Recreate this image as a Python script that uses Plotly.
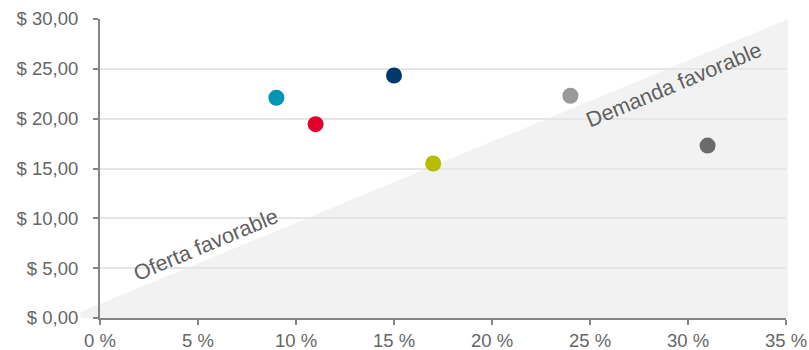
import plotly.graph_objects as go

# Data
x_vals = [9, 11, 15, 17, 24, 31]          # %
y_vals = [22.1, 19.45, 24.33, 15.5, 22.3, 17.3]  # $
colors = ["#0097B5", "#E4002B", "#00386B", "#B4BD00", "#999999", "#6B6B6B"]

x_ticks = [0, 5, 10, 15, 20, 25, 30, 35]
x_ticktext = ["0 %", "5 %", "10 %", "15 %", "20 %", "25 %", "30 %", "35 %"]
y_ticks = [0, 5, 10, 15, 20, 25, 30]
y_ticktext = ["$ 0,00", "$ 5,00", "$ 10,00", "$ 15,00", "$ 20,00", "$ 25,00", "$ 30,00"]

labels = ["Oferta favorable", "Demanda favorable"]
label_x = [5.4, 29.3]
label_y = [7.3, 23.4]

X_MAX, Y_MAX = 35, 30

fig = go.Figure()
fig.add_trace(go.Scatter(
    x=x_vals, y=y_vals, mode="markers",
    marker=dict(size=16, color=colors, line=dict(width=0)),
    showlegend=False, hoverinfo="x+y",
))

# background triangle (paper coords so it can extend slightly beyond the axes)
x0p, y0p = -1.0 / X_MAX, 0.6 / Y_MAX
x1p = 35.1 / X_MAX
fig.add_shape(
    type="path", xref="paper", yref="paper",
    path=f"M {x0p} {y0p} L {x1p} 1 L {x1p} 0 L {x0p} 0 Z",
    fillcolor="#F2F2F2", line=dict(width=0), layer="below",
)

for t, lx, ly in zip(labels, label_x, label_y):
    fig.add_annotation(x=lx, y=ly, text=t, showarrow=False, textangle=-22.7,
                       font=dict(family="Liberation Sans, Arial", size=21.5, color="#5F5F5F"))

axis_col = "#858585"
fig.update_layout(
    width=809, height=350,
    margin=dict(l=100, r=23, t=19, b=32),
    paper_bgcolor="white", plot_bgcolor="rgba(0,0,0,0)",
    font=dict(family="Liberation Sans, Arial", size=18.5, color="#666666"),
    xaxis=dict(range=[0, X_MAX], tickvals=x_ticks, ticktext=x_ticktext, automargin=False,
               showgrid=False, zeroline=False, showline=True, linecolor=axis_col, linewidth=2,
               ticks="outside", ticklen=5, tickcolor=axis_col, tickwidth=2, fixedrange=True),
    yaxis=dict(range=[0, Y_MAX], tickvals=y_ticks, ticktext=y_ticktext, automargin=False,
               ticklabelstandoff=11,
               showgrid=True, gridcolor="#E6E6E6", gridwidth=2, zeroline=False,
               showline=True, linecolor=axis_col, linewidth=2,
               ticks="outside", ticklen=5, tickcolor=axis_col, tickwidth=2, fixedrange=True),
)

fig.write_html("out.html")
